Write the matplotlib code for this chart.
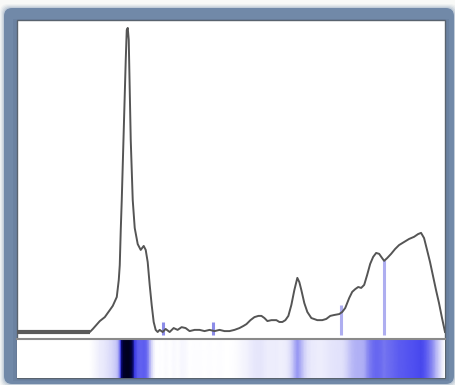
import matplotlib
matplotlib.use("Agg")
import matplotlib.pyplot as plt
import numpy as np
from matplotlib.colors import LinearSegmentedColormap
from matplotlib.patches import FancyBboxPatch
from matplotlib.transforms import IdentityTransform

# spectrum values (position, relative intensity, peak = 100)
position = [17, 90, 93, 100, 105, 110, 113, 117, 119, 120, 121, 122, 124, 126, 127, 128, 129, 130, 131,
            133, 135, 138, 141, 144, 146, 148, 150, 152, 154, 156, 158, 160, 163, 166, 170, 174, 178, 182,
            186, 190, 195, 200, 205, 210, 215, 220, 225, 230, 235, 240, 244, 247, 251, 255, 259, 262, 265,
            268, 272, 277, 280, 283, 286, 289, 292, 295, 298, 300, 302, 305, 308, 312, 318, 323, 327, 331,
            335, 340, 343, 346, 350, 353, 356, 359, 362, 365, 368, 371, 374, 377, 380, 383, 385, 388, 392,
            396, 400, 405, 410, 415, 419, 422, 425, 428, 431, 434, 437, 440, 443, 446]
intensity = [0, 0, 1.0, 3.6, 4.9, 7.2, 8.6, 11.5, 17.1, 22.0, 33.6, 43.4, 66.4, 89.5, 99.3, 100, 96.1, 79.6, 63.2,
             43.4, 34.2, 28.9, 27.0, 28.3, 27.0, 23.0, 15.5, 8.9, 3.3, 0.7, 0, 0.7, 0, 1.0, 0, 1.3, 0.7, 1.6,
             1.3, 0.3, 0.7, 0.7, 0.3, 0.7, 0.3, 0.7, 0.3, 0.3, 0.7, 1.3, 2.0, 2.6, 3.9, 4.9, 5.3, 5.3, 4.6,
             3.6, 3.9, 3.9, 3.3, 3.3, 3.9, 5.3, 8.9, 13.8, 17.8, 16.4, 13.8, 9.5, 6.6, 4.6, 3.9, 3.9, 4.3, 5.3,
             5.6, 5.9, 6.6, 7.9, 11.2, 13.2, 14.1, 14.8, 14.5, 15.5, 18.8, 22.4, 24.7, 26.0, 25.7, 24.3, 23.4, 24.3, 25.7,
             27.3, 28.6, 29.6, 30.6, 31.3, 32.2, 32.6, 30.9, 27.0, 23.0, 18.4, 13.8, 9.5, 4.6, 0]

# small marker sticks
stick_pos = [163, 213, 342, 385]
stick_top = [3.3, 3.3, 8.9, 23.7]
stick_col = ['#8c8ce8', '#8c8ce8', '#aeaef0', '#aeaef0']

strip_cmap = LinearSegmentedColormap.from_list('strip', [
    (0.00, (1.00, 1.00, 1.00)),
    (0.03, (0.94, 0.94, 0.99)),
    (0.08, (0.85, 0.85, 0.98)),
    (0.15, (0.68, 0.68, 0.96)),
    (0.18, (0.58, 0.58, 0.95)),
    (0.25, (0.42, 0.42, 0.94)),
    (0.32, (0.30, 0.30, 0.94)),
    (0.36, (0.18, 0.18, 0.85)),
    (0.41, (0.04, 0.04, 0.45)),
    (0.50, (0.00, 0.00, 0.20)),
    (1.00, (0.00, 0.00, 0.12)),
])

W, H = 455, 385
fig = plt.figure(figsize=(W / 100, H / 100), dpi=100)
fig.patch.set_facecolor('#f8f9f7')

# frame with soft shadow (pixel coords), kept behind the axes
px = IdentityTransform()
for k, a in [(4, 0.08), (3, 0.12), (2, 0.18), (1, 0.25)]:
    fig.add_artist(FancyBboxPatch((4 - k + 8, 1 - k + 8), 450 + 2 * k - 16, 376 + 2 * k - 16,
                                  boxstyle='round,pad=8', transform=px, fc='#8fa2bb', ec='none',
                                  alpha=a, zorder=-10))
fig.add_artist(FancyBboxPatch((12, 9), 434, 360, boxstyle='round,pad=8',
                              transform=px, fc='#7189a8', ec='none', zorder=-9))
fig.add_artist(FancyBboxPatch((13, 4), 436, 362, boxstyle='square,pad=0',
                              transform=px, fc='#667d9b', ec='none', alpha=0.5, zorder=-8))
fig.add_artist(FancyBboxPatch((17, 7), 428, 358, boxstyle='square,pad=0',
                              transform=px, fc='white', ec='#59636e', lw=1.0, zorder=-7))

# spectrum
ax = fig.add_axes([17 / W, 47 / H, 428 / W, 318 / H])
ax.set_xlim(17, 446)
ax.set_ylim(-1.97, 102.6)
ax.vlines(stick_pos, -1, stick_top, colors=stick_col, lw=2.2)
ax.plot(position, intensity, color='#555555', lw=1.4)
ax.plot(position[:2], intensity[:2], color='#5a5a5a', lw=3.0, solid_capstyle='butt')
ax.axis('off')

# color strip
ax2 = fig.add_axes([17 / W, 7 / H, 428 / W, 39 / H])
X, Y = np.meshgrid(position, [0, 1])
C = np.vstack([intensity, intensity]) / 100.0
ax2.pcolormesh(X, Y, C, cmap=strip_cmap, vmin=0, vmax=1, shading='gouraud')
ax2.set_xlim(17, 446)
ax2.set_ylim(0, 1)
ax2.set_xticks([])
ax2.set_yticks([])
for s in ['left', 'right', 'bottom']:
    ax2.spines[s].set_visible(False)
ax2.spines['top'].set_color('#8a8a8a')
ax2.spines['top'].set_linewidth(1.5)

fig.savefig('out.png', dpi=100, facecolor=fig.get_facecolor())
